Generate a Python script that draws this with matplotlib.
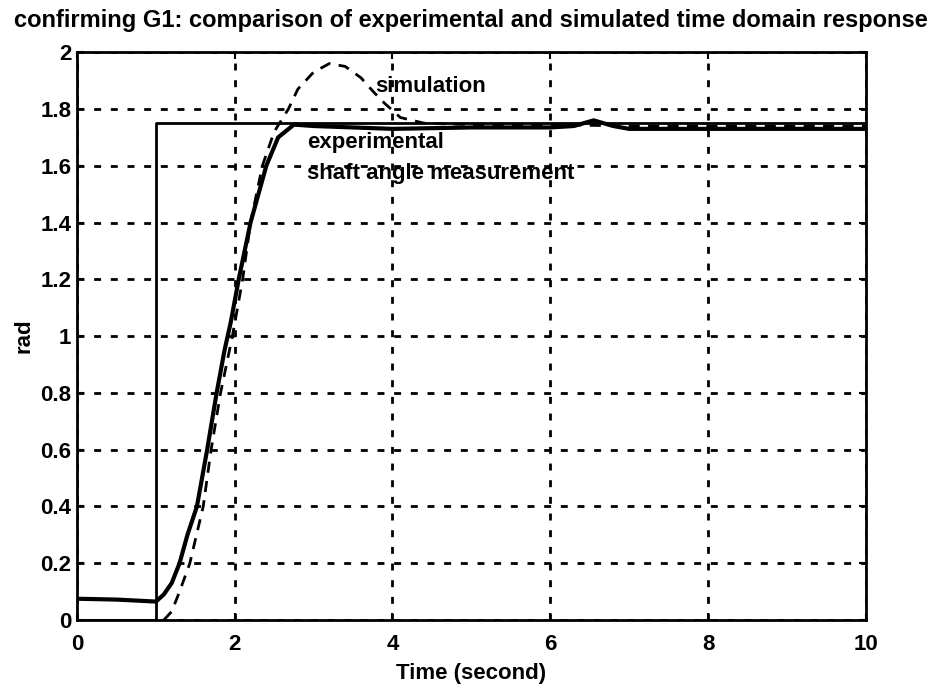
import matplotlib
matplotlib.use('Agg')
import matplotlib.pyplot as plt
import numpy as np

plt.rcParams['font.family'] = ['Liberation Sans', 'DejaVu Sans']
plt.rcParams['font.weight'] = 'bold'
plt.rcParams['axes.labelweight'] = 'bold'
plt.rcParams['axes.titleweight'] = 'bold'

# step input
t_step = [0, 1, 1, 10]
y_step = [0, 0, 1.75, 1.75]

# experimental shaft angle measurement
t_exp = [0, 0.5, 1.0, 1.1, 1.2, 1.3, 1.4, 1.52, 1.65, 1.77, 1.87, 1.95, 2.05,
         2.2, 2.4, 2.55, 2.75, 3.0, 3.5, 4.0, 5.0, 6.0, 6.3, 6.55, 6.8, 7.0,
         8.0, 9.0, 10]
y_exp = [0.075, 0.072, 0.065, 0.09, 0.13, 0.2, 0.3, 0.4, 0.6, 0.8, 0.95, 1.05,
         1.2, 1.4, 1.6, 1.7, 1.745, 1.74, 1.735, 1.73, 1.735, 1.735, 1.74, 1.76,
         1.74, 1.73, 1.73, 1.73, 1.73]

# simulated response
t_sim = [1.1, 1.2, 1.3, 1.43, 1.6, 1.7, 1.82, 1.97, 2.1, 2.2, 2.35, 2.5, 2.68,
         2.8, 3.0, 3.2, 3.4, 3.6, 3.76, 3.9, 4.1, 4.4, 5.0, 6.0, 7.0, 8.0, 10]
y_sim = [0, 0.03, 0.1, 0.2, 0.4, 0.6, 0.8, 1.0, 1.2, 1.4, 1.6, 1.72, 1.8,
         1.87, 1.93, 1.96, 1.95, 1.91, 1.86, 1.82, 1.77, 1.75, 1.745, 1.745,
         1.74, 1.74, 1.74]

fig = plt.figure(figsize=(9.43, 6.87), dpi=100)
ax = fig.add_axes([0.0817, 0.0975, 0.8363, 0.8265])

ax.plot(t_step, y_step, color='k', linewidth=2)
ax.plot(t_exp, y_exp, color='k', linewidth=3)
ax.plot(t_sim, y_sim, color='k', linewidth=2, linestyle=(0, (4, 3)))

ax.text(3.78, 1.88, 'simulation', fontsize=16, va='center', ha='left')
ax.text(2.92, 1.683, 'experimental', fontsize=16, va='center', ha='left')
ax.text(2.92, 1.574, 'shaft angle measurement', fontsize=16, va='center', ha='left')

ax.set_xlim(0, 10)
ax.set_ylim(0, 2)
ax.set_xticks(np.arange(0, 11, 2))
ax.set_yticks(np.arange(0, 2.01, 0.2))
ax.set_yticklabels(['0', '0.2', '0.4', '0.6', '0.8', '1', '1.2', '1.4', '1.6', '1.8', '2'])
ax.tick_params(direction='in', length=5, width=1.5, labelsize=16, top=True, right=True)
ax.tick_params(axis='x', pad=10)
ax.tick_params(axis='y', pad=4)
ax.grid(True, color='k', linestyle=(0, (2.5, 3.5)), linewidth=2)
for s in ax.spines.values():
    s.set_linewidth(2)

ax.set_xlabel('Time (second)', fontsize=16, labelpad=6)
ax.set_ylabel('rad', fontsize=16, labelpad=4)
ax.set_title('confirming G1: comparison of experimental and simulated time domain response',
             fontsize=17, pad=18)

fig.savefig('out.png', dpi=100)
